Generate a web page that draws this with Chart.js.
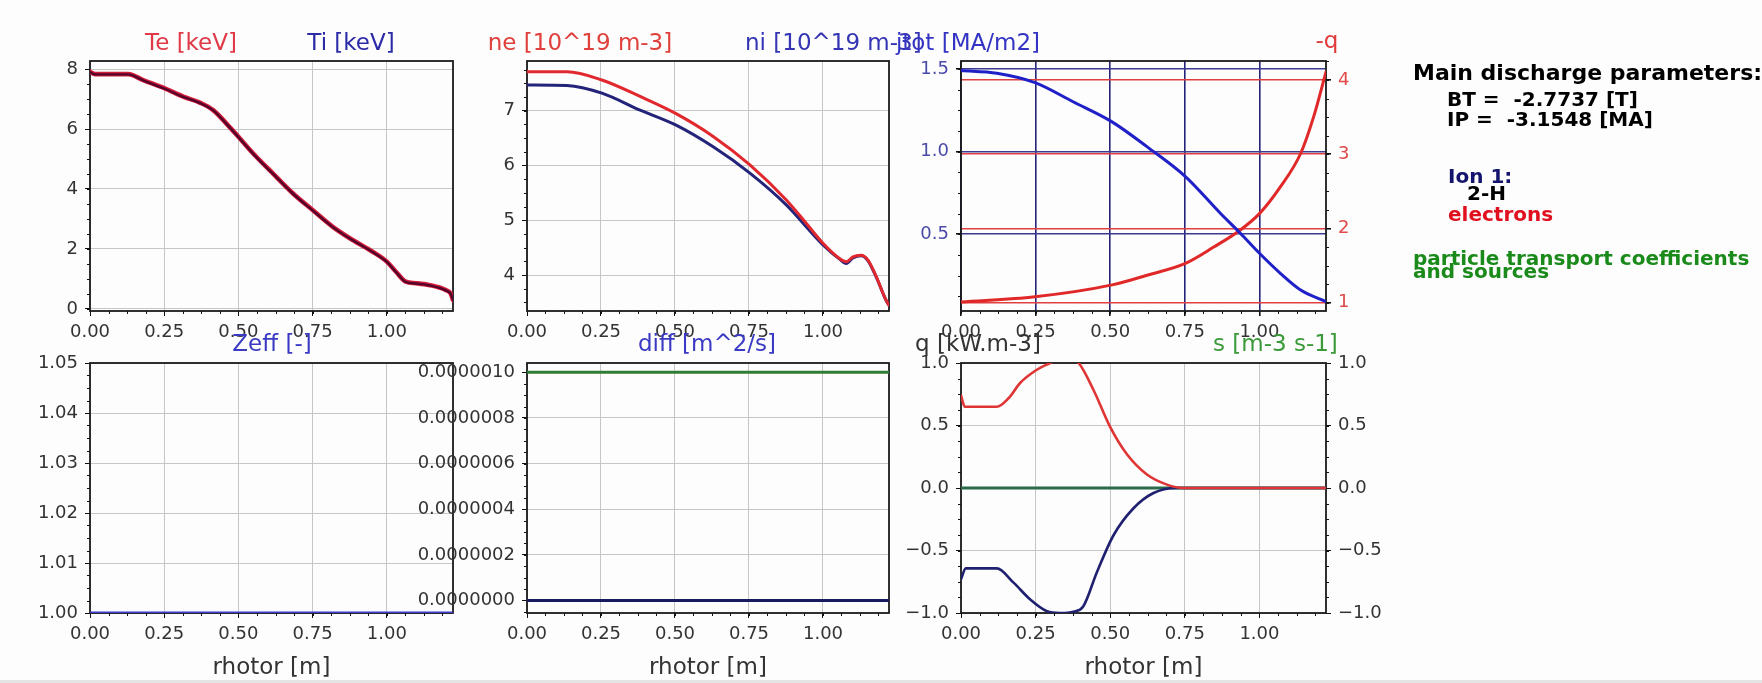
<!DOCTYPE html>
<html>
<head>
<meta charset="utf-8">
<title>profiles</title>
<script src="https://cdn.jsdelivr.net/npm/chart.js@4.4.1/dist/chart.umd.min.js"></script>
<style>
body{margin:0;background:#fdfdfd;}
#wrap{position:relative;width:1762px;height:683px;overflow:hidden;font-family:"DejaVu Sans",sans-serif;}
#wrap canvas{position:absolute;left:0;top:0;}
.t{position:absolute;white-space:pre;line-height:1;font-size:23px;}
.c{transform:translate(-50%,-50%);}
.l{transform:translateY(-50%);}
.r{transform:translate(-100%,-50%);}
.info{position:absolute;white-space:pre;line-height:1;font-weight:bold;font-size:20px;transform:translateY(-50%);}
#strip{position:absolute;left:0;right:0;bottom:0;height:3px;background:#e4e4e4;}
</style>
</head>
<body>
<div id="wrap">
<canvas id="c1" width="1762" height="683"></canvas>
<canvas id="c2" width="1762" height="683"></canvas>
<canvas id="c3" width="1762" height="683"></canvas>
<canvas id="c4" width="1762" height="683"></canvas>
<canvas id="c5" width="1762" height="683"></canvas>
<canvas id="c6" width="1762" height="683"></canvas>

<div class="t c" style="left:191px;top:42px;color:#e03a48">Te [keV]</div>
<div class="t c" style="left:351px;top:42px;color:#2b2ba8">Ti [keV]</div>
<div class="t c" style="left:580px;top:42px;color:#e0403c">ne [10^19 m-3]</div>
<div class="t l" style="left:745px;top:42px;color:#3434b4">ni [10^19 m-3]</div>
<div class="t r" style="left:1040px;top:42px;color:#3434c4">jtot [MA/m2]</div>
<div class="t c" style="left:1327px;top:40px;color:#e03a3a">-q</div>
<div class="t c" style="left:272px;top:343px;color:#3a3ac4">Zeff [-]</div>
<div class="t c" style="left:707px;top:343px;color:#3a3ac4">diff [m^2/s]</div>
<div class="t l" style="left:915px;top:343px;color:#333">q [kW.m-3]</div>
<div class="t l" style="left:1213px;top:343px;color:#3a9a3a">s [m-3 s-1]</div>

<div class="info" style="left:1413px;top:73px;font-size:22px;color:#000">Main discharge parameters:</div>
<div class="info" style="left:1447px;top:99px;color:#000">BT =  -2.7737 [T]</div>
<div class="info" style="left:1447px;top:119px;color:#000">IP =  -3.1548 [MA]</div>
<div class="info" style="left:1448px;top:176px;color:#14146e">Ion 1:</div>
<div class="info" style="left:1467px;top:193px;color:#000">2-H</div>
<div class="info" style="left:1448px;top:214px;color:#e0101e">electrons</div>
<div class="info" style="left:1413px;top:258px;color:#1a8a1a">particle transport coefficients</div>
<div class="info" style="left:1413px;top:271px;color:#1a8a1a">and sources</div>
<div id="strip"></div>
</div>

<script>
// common x axis (rhotor)
const xTicks = [0, 0.25, 0.5, 0.75, 1.0];
const xMax = 1.223;

// Te / Ti [keV]
const teRho = [0, 0.017, 0.129, 0.179, 0.25, 0.314, 0.37, 0.415, 0.459, 0.5, 0.549, 0.616, 0.683, 0.75, 0.818, 0.885, 0.952, 1.0, 1.031, 1.064, 1.098, 1.142, 1.199, 1.215, 1.223];
const teVal = [7.91, 7.83, 7.83, 7.63, 7.36, 7.08, 6.88, 6.63, 6.19, 5.74, 5.19, 4.52, 3.86, 3.3, 2.74, 2.3, 1.91, 1.58, 1.24, 0.91, 0.86, 0.8, 0.63, 0.52, 0.3];
const tiRho = [0, 0.017, 0.129, 0.179, 0.25, 0.314, 0.37, 0.415, 0.459, 0.5, 0.549, 0.616, 0.683, 0.75, 0.818, 0.885, 0.952, 1.0, 1.031, 1.064, 1.098, 1.142, 1.199, 1.215, 1.223];
const tiVal = [7.9, 7.82, 7.82, 7.62, 7.35, 7.07, 6.87, 6.62, 6.18, 5.73, 5.18, 4.51, 3.85, 3.29, 2.73, 2.29, 1.9, 1.57, 1.23, 0.9, 0.85, 0.79, 0.62, 0.51, 0.3];
const tTicks = [0, 2, 4, 6, 8];

// ne / ni [10^19 m-3]
const neRho = [0, 0.135, 0.253, 0.382, 0.502, 0.629, 0.753, 0.876, 0.944, 1.0, 1.056, 1.079, 1.101, 1.129, 1.152, 1.18, 1.213, 1.223];
const neVal = [7.71, 7.71, 7.56, 7.26, 6.95, 6.53, 6.01, 5.37, 4.94, 4.58, 4.3, 4.24, 4.33, 4.36, 4.27, 3.97, 3.54, 3.45];
const niRho = [0, 0.135, 0.253, 0.382, 0.502, 0.629, 0.753, 0.876, 1.0, 1.056, 1.079, 1.101, 1.129, 1.152, 1.18, 1.213, 1.223];
const niVal = [7.47, 7.46, 7.32, 7.01, 6.74, 6.34, 5.86, 5.28, 4.55, 4.29, 4.21, 4.31, 4.35, 4.26, 3.96, 3.54, 3.45];
const nTicks = [4, 5, 6, 7];

// jtot [MA/m2] and -q
const jRho = [0, 0.12, 0.248, 0.377, 0.506, 0.623, 0.752, 0.869, 0.936, 1.0, 1.07, 1.138, 1.223];
const jVal = [1.49, 1.474, 1.417, 1.3, 1.18, 1.03, 0.849, 0.627, 0.506, 0.385, 0.264, 0.163, 0.093];
const qRho = [0, 0.248, 0.506, 0.623, 0.752, 0.847, 0.936, 1.0, 1.07, 1.138, 1.182, 1.223];
const qVal = [1.01, 1.08, 1.24, 1.37, 1.53, 1.75, 1.98, 2.2, 2.56, 3.01, 3.51, 4.11];
const jTicks = [0.5, 1.0, 1.5];
const qTicks = [1, 2, 3, 4];

// Zeff
const zRho = [0, 1.223];
const zVal = [1.0, 1.0];
const zTicks = [1.0, 1.01, 1.02, 1.03, 1.04, 1.05];

// diff [m^2/s]
const dRho = [0, 1.223];
const dIon = [1.0e-6, 1.0e-6];
const dEl = [0, 0];
const dTicks = [0, 2e-7, 4e-7, 6e-7, 8e-7, 1e-6];

// q [kW.m-3] and s
const heRho = [0, 0.013, 0.12, 0.16, 0.198, 0.254, 0.299, 0.345, 0.394, 0.444, 0.5, 0.556, 0.623, 0.69, 0.745, 1.223];
const heVal = [0.74, 0.65, 0.65, 0.72, 0.84, 0.946, 1.0, 1.05, 1.0, 0.784, 0.487, 0.27, 0.108, 0.027, 0, 0];
const hiRho = [0, 0.016, 0.12, 0.176, 0.232, 0.288, 0.332, 0.377, 0.41, 0.455, 0.511, 0.578, 0.645, 0.72, 1.223];
const hiVal = [-0.73, -0.643, -0.643, -0.757, -0.892, -0.986, -1.0, -0.99, -0.946, -0.676, -0.378, -0.162, -0.04, 0, 0];
const sRho = [0, 1.223];
const sVal = [0, 0];
const hTicks = [-1, -0.5, 0, 0.5, 1];

const tickFont = {family: 'DejaVu Sans', size: 18};
const pts = (xs, ys) => xs.map((x, i) => ({x: x, y: ys[i]}));
const minus = s => s.replace('-', '\u2212');

// box frame + minor ticks
const frame = {
  id: 'frame',
  beforeDatasetsDraw(chart, args, opts) {
    const {ctx, chartArea: a} = chart;
    ctx.save();
    ctx.strokeStyle = '#111';
    ctx.lineWidth = 1;
    (opts.minor || []).forEach(m => {
      const s = chart.scales[m[0]];
      const step = m[1];
      for (let k = Math.ceil(s.min / step - 1e-9); k * step <= s.max + 1e-12; k++) {
        const p = Math.round(s.getPixelForValue(k * step)) + 0.5;
        ctx.beginPath();
        if (s.isHorizontal()) { ctx.moveTo(p, a.bottom); ctx.lineTo(p, a.bottom + 3); }
        else if (s.position === 'left') { ctx.moveTo(a.left, p); ctx.lineTo(a.left - 3, p); }
        else { ctx.moveTo(a.right, p); ctx.lineTo(a.right + 3, p); }
        ctx.stroke();
      }
    });
    ctx.lineWidth = 1.8;
    ctx.strokeStyle = '#1a1a1a';
    ctx.strokeRect(a.left, a.top, a.right - a.left, a.bottom - a.top);
    ctx.restore();
  }
};

// note: dataset 0 ends up drawn on top
function line(xs, ys, color, width, axis) {
  return {
    data: pts(xs, ys), borderColor: color, backgroundColor: color, borderWidth: width,
    pointRadius: 0, cubicInterpolationMode: 'monotone', fill: false,
    borderJoinStyle: 'round', borderCapStyle: 'round', yAxisID: axis || 'y'
  };
}

function xAxis(bottomRow, grid, gridWidth) {
  return {
    type: 'linear', min: 0, max: xMax, bounds: 'data',
    afterBuildTicks: s => { s.ticks = xTicks.map(v => ({value: v})); },
    afterFit: s => { s.height = bottomRow ? 69 : 36; },
    ticks: {font: tickFont, color: '#333', padding: 6, maxRotation: 0, autoSkip: false, callback: v => v.toFixed(2)},
    grid: {color: grid || '#c6c6c6', lineWidth: gridWidth || 1, tickColor: '#111', tickLength: 5},
    border: {display: false},
    title: {display: bottomRow, text: 'rhotor [m]', color: '#333', padding: 0, font: {family: 'DejaVu Sans', size: 23}}
  };
}

// axis width is fixed so the plot boxes land where they should
function yAxis(o) {
  return {
    type: 'linear', position: o.position || 'left', min: o.min, max: o.max, bounds: 'data',
    afterBuildTicks: s => { s.ticks = o.ticks.map(v => ({value: v})); },
    afterFit: s => { s.width = 130; },
    ticks: {font: tickFont, color: o.color || '#333', padding: 7, autoSkip: false, callback: o.fmt},
    grid: {color: o.grid || '#c6c6c6', lineWidth: o.gridWidth || 1, drawOnChartArea: o.drawGrid !== false,
           tickColor: '#111', tickLength: 5},
    border: {display: false}
  };
}

// box = [left, top, right, bottom] of the plot area
function panel(id, box, datasets, scales, minor) {
  const pad = {
    left: box[0] - 130,
    top: box[1],
    right: 1762 - box[2] - (scales.y2 ? 130 : 0),
    bottom: 683 - box[3] - (box[1] > 300 ? 69 : 36)
  };
  return new Chart(document.getElementById(id), {
    type: 'line',
    data: {datasets: datasets},
    options: {
      responsive: false, animation: false, devicePixelRatio: 1,
      layout: {padding: pad},
      plugins: {legend: {display: false}, tooltip: {enabled: false}, frame: {minor: minor}},
      scales: scales
    },
    plugins: [frame]
  });
}

panel('c1', [90, 61, 453, 311],
  [line(tiRho, tiVal, 'rgba(60,0,40,0.85)', 2.4), line(teRho, teVal, '#d41c3a', 4.6)],
  {x: xAxis(false), y: yAxis({min: -0.067, max: 8.267, ticks: tTicks, fmt: v => String(v)})},
  [['x', 0.0625], ['y', 0.5]]);

panel('c2', [527, 61, 889, 311],
  [line(neRho, neVal, '#e0282e', 3), line(niRho, niVal, '#23237a', 3)],
  {x: xAxis(false), y: yAxis({min: 3.343, max: 7.907, ticks: nTicks, fmt: v => String(v)})},
  [['x', 0.0625], ['y', 0.25]]);

panel('c3', [961, 61, 1326, 311],
  [line(jRho, jVal, '#2020c8', 3), line(qRho, qVal, '#e02828', 3, 'y2')],
  {
    x: xAxis(false, '#24247a', 1.6),
    y: yAxis({min: 0.036, max: 1.548, ticks: jTicks, color: '#4a4aa8', grid: '#3a3a90', gridWidth: 1.6, fmt: v => v.toFixed(1)}),
    y2: yAxis({position: 'right', min: 0.888, max: 4.256, ticks: qTicks, color: '#e04a4a', grid: '#e04040', gridWidth: 1.6, fmt: v => String(v)})
  },
  [['x', 0.0625], ['y', 0.125], ['y2', 0.25]]);

panel('c4', [90, 363, 453, 613],
  [line(zRho, zVal, '#3a3acc', 3)],
  {x: xAxis(true), y: yAxis({min: 1.0, max: 1.05, ticks: zTicks, fmt: v => v.toFixed(2)})},
  [['x', 0.0625], ['y', 0.0025]]);

panel('c5', [527, 363, 889, 613],
  [line(dRho, dIon, '#2e7d32', 3), line(dRho, dEl, '#1a1a5e', 3)],
  {x: xAxis(true), y: yAxis({min: -0.055e-6, max: 1.041e-6, ticks: dTicks, fmt: v => v.toFixed(7)})},
  [['x', 0.0625], ['y', 0.05e-6]]);

panel('c6', [961, 363, 1326, 613],
  [line(heRho, heVal, '#e03535', 2.6), line(hiRho, hiVal, '#202070', 2.6), line(sRho, sVal, '#2a6a4a', 3, 'y2')],
  {
    x: xAxis(true),
    y: yAxis({min: -1, max: 1, ticks: hTicks, fmt: v => minus(v.toFixed(1))}),
    y2: yAxis({position: 'right', min: -1, max: 1, ticks: hTicks, drawGrid: false, fmt: v => minus(v.toFixed(1))})
  },
  [['x', 0.0625], ['y', 0.125], ['y2', 0.125]]);
</script>
</body>
</html>
